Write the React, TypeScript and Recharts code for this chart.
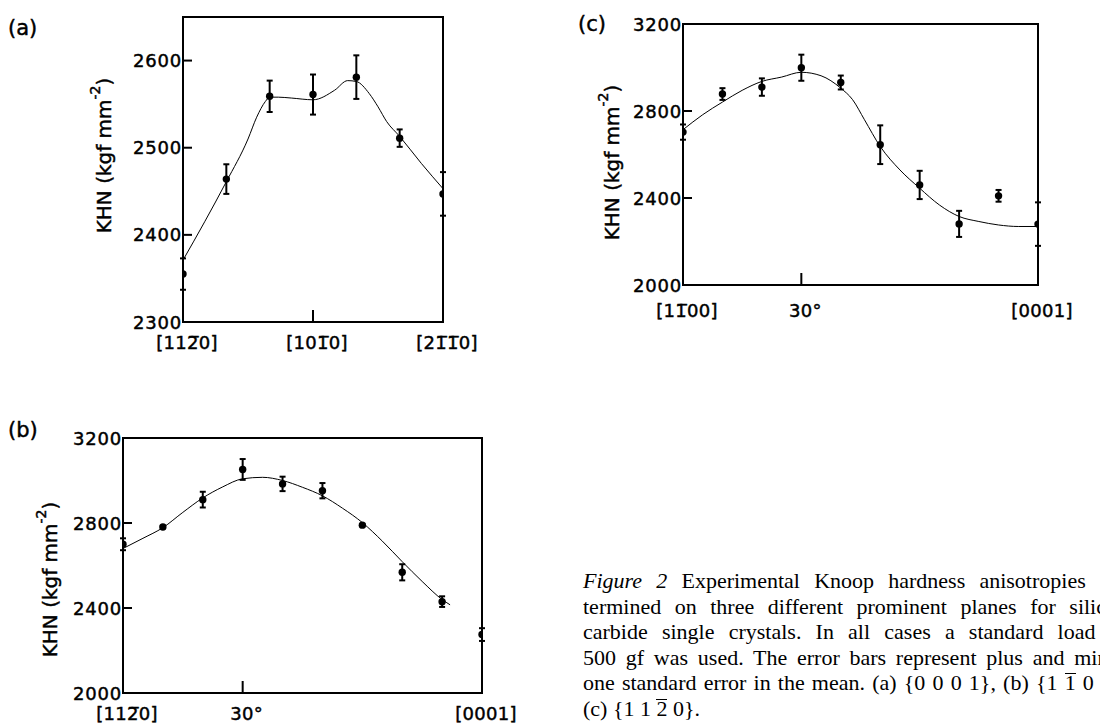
import React from 'react';
import { ComposedChart, Line, Scatter, ErrorBar, XAxis, YAxis, ReferenceArea } from 'recharts';

const OV = '\u0305';

// ---- Panel (a): {0001} plane ----
const anglesA = [0, 10, 20, 30, 40, 50, 60];
const khnA = [2355, 2464, 2559, 2561, 2581, 2511, 2447];
const errA = [18, 17, 18, 23, 25, 10, 25];
const fitAnglesA = [0, 5, 10, 15, 17, 19, 20, 22, 25, 30, 35, 38, 40, 43, 45, 47, 50, 55, 60];
const fitKhnA = [2371, 2415, 2461, 2510, 2535, 2553, 2558, 2558, 2557, 2555, 2566, 2577, 2576, 2562, 2547, 2530, 2513, 2482, 2453];
const xTicksA = [0, 30, 60];
const xTickLabelsA = ['[112' + OV + '0]', '[101' + OV + '0]', '[21' + OV + '1' + OV + '0]'];
const yTicksA = [2300, 2400, 2500, 2600];

// ---- Panel (b): {1-100} plane ----
const anglesB = [0, 10, 20, 30, 40, 50, 60, 70, 80, 90];
const khnB = [2700, 2781, 2910, 3052, 2984, 2952, 2790, 2568, 2430, 2275];
const errB = [28, 6, 37, 49, 34, 36, 6, 38, 25, 30];
const fitAnglesB = [0, 5, 10, 15, 20, 25, 30, 35, 40, 45, 50, 55, 60, 65, 70, 75, 80, 82];
const fitKhnB = [2680, 2728, 2778, 2850, 2918, 2970, 3008, 3015, 3000, 2968, 2928, 2870, 2802, 2715, 2618, 2525, 2440, 2415];
const xTicksB = [0, 30, 90];
const xTickLabelsB = ['[112' + OV + '0]', '30°', '[0001]'];
const yTicksB = [2000, 2400, 2800, 3200];

// ---- Panel (c): {11-20} plane ----
const anglesC = [0, 10, 20, 30, 40, 50, 60, 70, 80, 90];
const khnC = [2703, 2878, 2910, 2999, 2931, 2645, 2460, 2281, 2410, 2280];
const errC = [35, 27, 40, 60, 32, 89, 65, 60, 27, 100];
const fitAnglesC = [0, 5, 10, 15, 20, 25, 30, 35, 40, 43, 46, 50, 55, 60, 65, 70, 75, 80, 85, 90];
const fitKhnC = [2714, 2783, 2841, 2895, 2936, 2956, 2978, 2962, 2905, 2852, 2760, 2637, 2529, 2445, 2368, 2315, 2292, 2276, 2269, 2269];
const xTicksC = [0, 30, 90];
const xTickLabelsC = ['[11' + OV + '00]', '30°', '[0001]'];
const yTicksC = [2000, 2400, 2800, 3200];

const FONT = '"DejaVu Sans", sans-serif';
const HEAVY = { stroke: '#000', strokeWidth: 0.45 };

type PanelProps = {
  left: number; top: number; plotW: number; plotH: number;
  xDomain: [number, number]; yDomain: [number, number];
  xTicks: number[]; xLabels: string[]; yTicks: number[];
  angles: number[]; khn: number[]; err: number[];
  fitAngles: number[]; fitKhn: number[];
  yLabelDx: number; yLabelDy: number; xLabelDy: number;
};

function Panel(p: PanelProps) {
  const YW = 100, MT = 12, MR = 50, XH = 45;
  const points = p.angles.map((a, i) => ({ x: a, y: p.khn[i], err: p.err[i] }));
  const fit = p.fitAngles.map((a, i) => ({ x: a, y: p.fitKhn[i] }));

  const yTick = (props: any) => {
    const { x, y, payload } = props;
    const v = payload.value;
    const inner = v !== p.yDomain[0] && v !== p.yDomain[1];
    return (
      <g>
        {inner && <line x1={x} x2={x + 9} y1={y} y2={y} stroke="#000" strokeWidth={2} />}
        <text x={x - 1} y={y} textAnchor="end" dominantBaseline="central" fontSize={18} letterSpacing={0.8} fontFamily={FONT} fill="#000" {...HEAVY}>{v}</text>
      </g>
    );
  };
  const xTick = (props: any) => {
    const { x, y, payload, index } = props;
    const v = payload.value;
    const inner = v !== p.xDomain[0] && v !== p.xDomain[1];
    const idx = p.xTicks.indexOf(v);
    return (
      <g>
        {inner && <line x1={x} x2={x} y1={y} y2={y - 12} stroke="#000" strokeWidth={2} />}
        <text x={x + 4} y={y + p.xLabelDy} textAnchor="middle" dominantBaseline="central" fontSize={18} letterSpacing={0.3} fontFamily={FONT} fill="#000" {...HEAVY}>{p.xLabels[idx >= 0 ? idx : index]}</text>
      </g>
    );
  };
  const yLabel = (props: any) => {
    const vb = props.viewBox || {};
    const cx = vb.x + vb.width - p.yLabelDx;
    const cy = vb.y + vb.height / 2 + p.yLabelDy;
    return (
      <text x={cx} y={cy} transform={`rotate(-90 ${cx} ${cy})`} textAnchor="middle" dominantBaseline="central" fontSize={20} fontFamily={FONT} fill="#000" {...HEAVY}>
        KHN (kgf mm<tspan dy={-9} fontSize={14}>-2</tspan><tspan dy={9}>)</tspan>
      </text>
    );
  };

  return (
    <div style={{ position: 'absolute', left: p.left - YW, top: p.top - MT }}>
      <ComposedChart width={YW + p.plotW + MR} height={MT + p.plotH + XH} margin={{ top: MT, right: MR, bottom: 0, left: 0 }}>
        <XAxis dataKey="x" type="number" domain={p.xDomain} ticks={p.xTicks} allowDataOverflow
          axisLine={false} tickLine={false} tickSize={0} tickMargin={0} height={XH} tick={xTick} interval={0} />
        <YAxis type="number" domain={p.yDomain} ticks={p.yTicks} allowDataOverflow
          axisLine={false} tickLine={false} tickSize={0} tickMargin={0} width={YW} tick={yTick} interval={0}
          label={{ content: yLabel }} />
        <ReferenceArea x1={p.xDomain[0]} x2={p.xDomain[1]} y1={p.yDomain[0]} y2={p.yDomain[1]}
          fill="none" fillOpacity={0} stroke="#000" strokeWidth={2} strokeOpacity={1} ifOverflow="visible" />
        <Line data={fit} dataKey="y" type="monotone" dot={false} activeDot={false} stroke="#000" strokeWidth={1} isAnimationActive={false} />
        <Scatter data={points} dataKey="y" isAnimationActive={false}
          shape={(s: any) => <circle cx={s.cx} cy={s.cy} r={3.7} fill="#000" />}>
          <ErrorBar dataKey="err" direction="y" width={3} stroke="#000" strokeWidth={2} isAnimationActive={false} />
        </Scatter>
      </ComposedChart>
    </div>
  );
}

const captionStyle: React.CSSProperties = {
  position: 'absolute', left: 583, top: 568, width: 545,
  fontFamily: '"Liberation Serif", "Times New Roman", serif', fontSize: 22, lineHeight: '25.5px', color: '#000',
};
const lineStyle: React.CSSProperties = { textAlign: 'justify', textAlignLast: 'justify' as any, height: 25.5 };
const ov: React.CSSProperties = { display: 'inline-block', borderTop: '1.5px solid #000', lineHeight: '17px' };

export default function App() {
  return (
    <div style={{ position: 'absolute', left: 0, top: 0, width: 1100, height: 726, overflow: 'hidden', background: '#fff' }}>
      <svg width={1100} height={726} style={{ position: 'absolute', left: 0, top: 0 }}>
        <text x={8} y={35} fontSize={21} fontFamily={FONT} fill="#000" {...HEAVY}>(a)</text>
        <text x={8} y={437} fontSize={21} fontFamily={FONT} fill="#000" {...HEAVY}>(b)</text>
        <text x={578} y={31} fontSize={21} fontFamily={FONT} fill="#000" {...HEAVY}>(c)</text>
      </svg>
      <Panel left={183} top={17} plotW={260} plotH={305} xDomain={[0, 60]} yDomain={[2300, 2650]}
        xTicks={xTicksA} xLabels={xTickLabelsA} yTicks={yTicksA}
        angles={anglesA} khn={khnA} err={errA} fitAngles={fitAnglesA} fitKhn={fitKhnA}
        yLabelDx={79} yLabelDy={-14} xLabelDy={20} />
      <Panel left={683} top={24} plotW={355} plotH={261} xDomain={[0, 90]} yDomain={[2000, 3200]}
        xTicks={xTicksC} xLabels={xTickLabelsC} yTicks={yTicksC}
        angles={anglesC} khn={khnC} err={errC} fitAngles={fitAnglesC} fitKhn={fitKhnC}
        yLabelDx={71} yLabelDy={8} xLabelDy={25} />
      <Panel left={123} top={438} plotW={359} plotH={255} xDomain={[0, 90]} yDomain={[2000, 3200]}
        xTicks={xTicksB} xLabels={xTickLabelsB} yTicks={yTicksB}
        angles={anglesB} khn={khnB} err={errB} fitAngles={fitAnglesB} fitKhn={fitKhnB}
        yLabelDx={73} yLabelDy={14} xLabelDy={20} />
      <div style={captionStyle}>
        <div style={lineStyle}><i>Figure 2</i> Experimental Knoop hardness anisotropies de-</div>
        <div style={lineStyle}>termined on three different prominent planes for silicon</div>
        <div style={lineStyle}>carbide single crystals. In all cases a standard load of</div>
        <div style={lineStyle}>500 gf was used. The error bars represent plus and minus</div>
        <div style={lineStyle}>one standard error in the mean. (a) {'{0 0 0 1}'}, (b) {'{1 '}<span style={ov}>1</span>{' 0 0}'},</div>
        <div style={{ height: 25.5 }}>(c) {'{1 1 '}<span style={ov}>2</span>{' 0}'}.</div>
      </div>
    </div>
  );
}
